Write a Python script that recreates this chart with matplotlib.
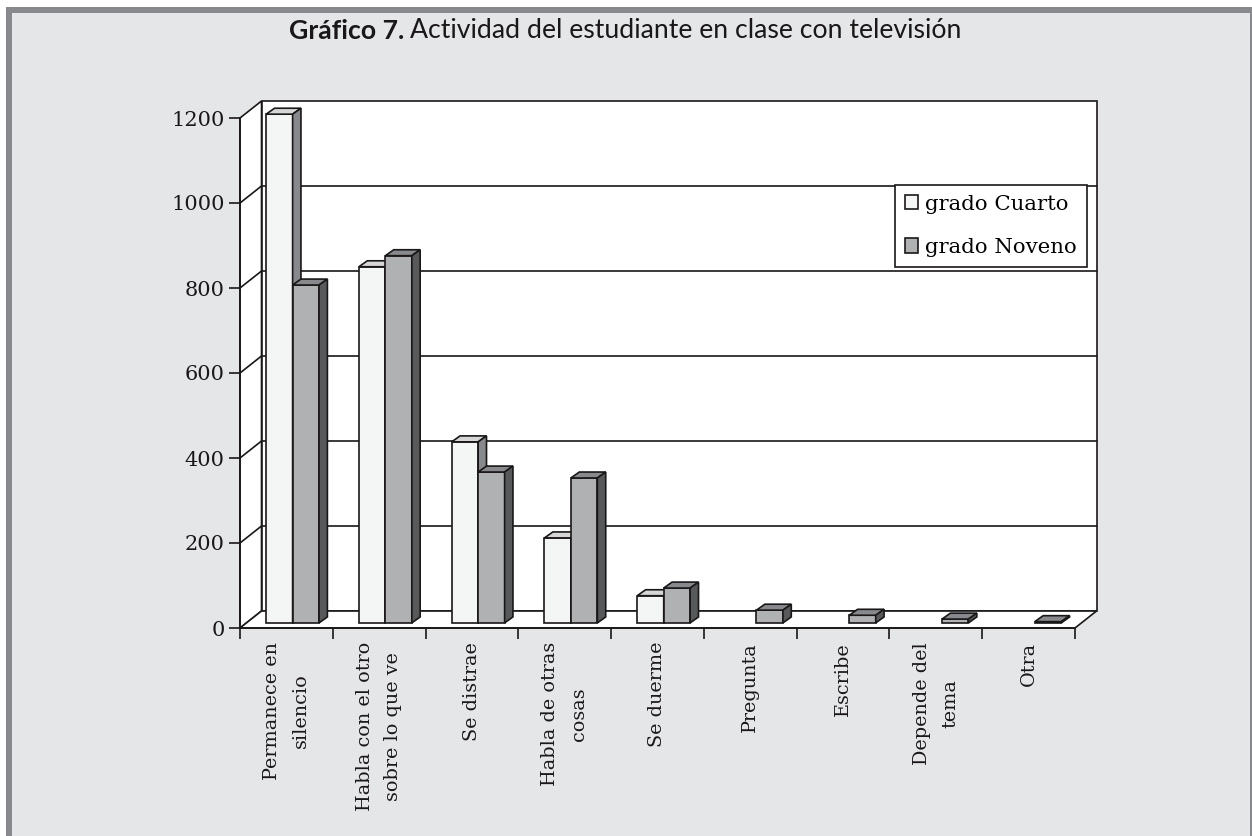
import matplotlib
matplotlib.use('Agg')
import matplotlib.pyplot as plt
from matplotlib.patches import Patch, Polygon, Rectangle

categories = ['Permanece en\nsilencio', 'Habla con el otro\nsobre lo que ve', 'Se distrae',
              'Habla de otras\ncosas', 'Se duerme', 'Pregunta', 'Escribe', 'Depende del\ntema', 'Otra']
cuarto = [1197, 838, 426, 200, 64, 0, 0, 0, 0]
noveno = [795, 864, 355, 341, 82, 30, 18, 9, 3]
yticks = [0, 200, 400, 600, 800, 1000, 1200]

W, H = 1252, 836
BORDER = '#88898c'
PANEL = '#e5e6e8'
LINE = '#1a1718'
SERIF = 'DejaVu Serif'

# depth of the fake 3d, in data units
wall_dx, wall_dy = 0.232, 40
front_dx, front_dy = 0.067, 12
bar_dx, bar_dy = 0.09, 14
bar_w = 0.285

fig = plt.figure(figsize=(W / 100, H / 100), dpi=100, facecolor='white')
fig.patches.append(Rectangle((6 / W, 0), (W - 6) / W, (H - 7) / H, transform=fig.transFigure,
                             facecolor=BORDER, edgecolor='none', zorder=-3))
fig.patches.append(Rectangle((12 / W, 0), (1250 - 12) / W, (H - 12.5) / H, transform=fig.transFigure,
                             facecolor=PANEL, edgecolor='none', zorder=-2))

ax = fig.add_axes([240 / W, 1 - 628 / H, (1075 - 240) / W, 510 / H])
ax.patch.set_visible(False)
ax.set_xlim(0, len(categories))
ax.set_ylim(0, 1200)


def poly(points, face, z, lw=1.2):
    ax.add_patch(Polygon(points, closed=True, facecolor=face, edgecolor=LINE, linewidth=lw,
                         zorder=z, clip_on=False, joinstyle='miter'))


n = len(categories)
# walls and floor
poly([(0, 0), (wall_dx, wall_dy), (wall_dx, 1200 + wall_dy), (0, 1200)], 'white', 1)
poly([(wall_dx, wall_dy), (n + wall_dx, wall_dy), (n + wall_dx, 1200 + wall_dy), (wall_dx, 1200 + wall_dy)],
     'white', 1)
poly([(0, 0), (n, 0), (n + wall_dx, wall_dy), (wall_dx, wall_dy)], 'white', 1)

for v in yticks[1:-1]:
    ax.plot([0, wall_dx, n + wall_dx], [v, v + wall_dy, v + wall_dy], color=LINE, lw=1.2, zorder=2,
            clip_on=False, solid_joinstyle='miter')


def bar3d(x, value, front, top, side, z):
    x0 = x + front_dx
    y0 = front_dy
    x1 = x0 + bar_w
    y1 = y0 + value
    ax.bar(x0, value, bar_w, bottom=y0, align='edge', color=front, edgecolor=LINE, linewidth=1.2,
           zorder=z, clip_on=False)
    poly([(x0, y1), (x1, y1), (x1 + bar_dx, y1 + bar_dy), (x0 + bar_dx, y1 + bar_dy)], top, z)
    poly([(x1, y0), (x1 + bar_dx, y0 + bar_dy), (x1 + bar_dx, y1 + bar_dy), (x1, y1)], side, z)


for i in range(n):
    if cuarto[i] > 0:
        bar3d(i + 0.5 - bar_w, cuarto[i], '#f4f6f5', '#d6d7d5', '#88898c', 3)
    if noveno[i] > 0:
        bar3d(i + 0.5, noveno[i], '#b0b1b3', '#88898c', '#58595b', 4)

for s in ['top', 'right']:
    ax.spines[s].set_visible(False)
for s in ['left', 'bottom']:
    ax.spines[s].set_color(LINE)
    ax.spines[s].set_linewidth(1.2)
    ax.spines[s].set_zorder(6)

ax.set_yticks(yticks)
ax.set_xticks(range(n + 1))
ax.set_xticklabels([])
ax.set_xticks([i + 0.5 for i in range(n)], minor=True)
ax.set_xticklabels(categories, minor=True, rotation=90, family=SERIF, fontsize=13.8,
                   ha='center', va='top', ma='center', color=LINE, linespacing=1.75)
ax.tick_params(axis='x', which='major', length=8, width=1.2, color=LINE)
ax.tick_params(axis='x', which='minor', length=0, pad=10)
ax.tick_params(axis='y', length=8, width=1.2, color=LINE, pad=3)
for t in ax.get_yticklabels():
    t.set_family(SERIF)
    t.set_fontsize(15)
    t.set_color(LINE)

handles = [Patch(facecolor='#f4f6f5', edgecolor=LINE, linewidth=1.2, label='grado Cuarto'),
           Patch(facecolor='#b0b1b3', edgecolor=LINE, linewidth=1.2, label='grado Noveno')]
leg = fig.legend(handles=handles, loc='upper left', bbox_to_anchor=(895 / W, 1 - 185 / H),
                 bbox_transform=fig.transFigure, fancybox=False, framealpha=1, edgecolor=LINE,
                 prop={'family': SERIF, 'size': 15.3}, handlelength=0.65, handleheight=0.65,
                 handletextpad=0.33, labelspacing=1.15, borderpad=0.45, borderaxespad=0)
leg.get_frame().set_linewidth(1.2)
leg.set_zorder(10)

t1 = fig.text(289 / W, 1 - 31 / H, 'Gráfico 7.', family='Lato', fontweight='bold', fontsize=19.2,
              ha='left', va='center', color=LINE)
fig.canvas.draw()
bb = t1.get_window_extent()
fig.text((bb.x1 + 6) / W, 1 - 31 / H, 'Actividad del estudiante en clase con televisión', family='Lato',
         fontsize=19.2, ha='left', va='center', color=LINE)

plt.savefig('out.png', dpi=100)
plt.close()
